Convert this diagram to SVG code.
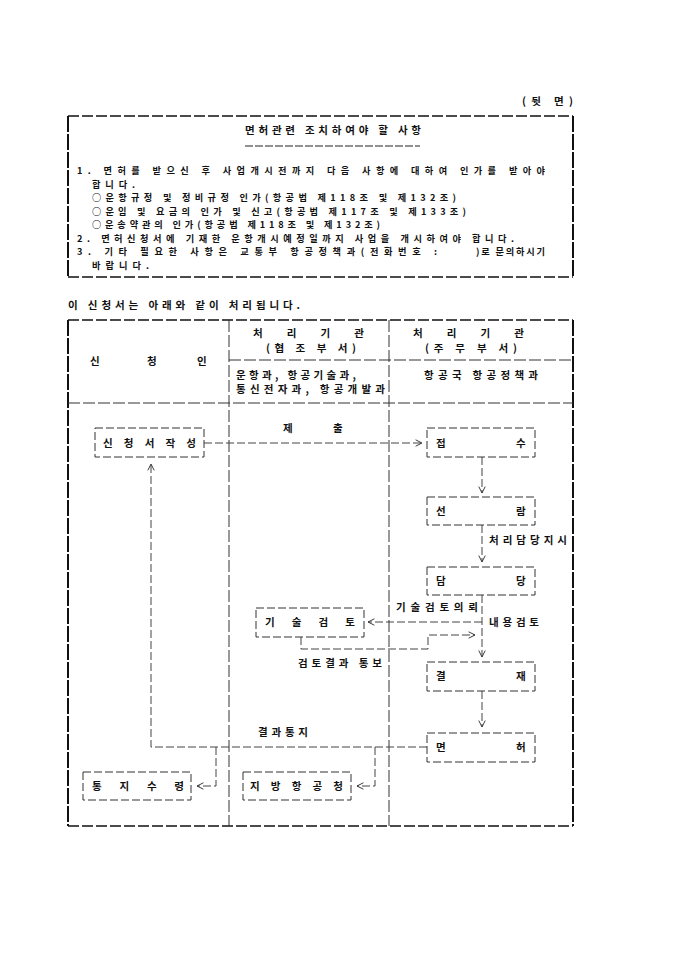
<svg xmlns="http://www.w3.org/2000/svg" width="680" height="962" viewBox="0 0 680 962">
<defs>
<style>
text{font-family:"Noto Sans CJK KR","Noto Sans",sans-serif;font-size:10.5px;font-weight:bold;fill:#111;}
.sm{font-size:9.2px;}
.frame{fill:none;stroke:#111;stroke-width:1.6;stroke-dasharray:11 3;}
.frameV{fill:none;stroke:#111;stroke-width:2;stroke-dasharray:16 2;}
.div{fill:none;stroke:#333;stroke-width:1;stroke-dasharray:12 3;}
.box{fill:none;stroke:#333;stroke-width:1;stroke-dasharray:8 3;}
.con{fill:none;stroke:#444;stroke-width:1;stroke-dasharray:8 3;}
</style>
<marker id="ah" viewBox="0 0 10 10" refX="9" refY="5" markerWidth="8" markerHeight="8" orient="auto" markerUnits="userSpaceOnUse">
<path d="M1,1 L9,5 L1,9" fill="none" stroke="#333" stroke-width="1.2"/>
</marker>
</defs>
<rect width="680" height="962" fill="#fff"/>

<text x="522" y="105" textLength="51" lengthAdjust="spacing">(뒷 면)</text>

<g id="notice">
<path class="frame" d="M68,116 H573"/>
<path class="frame" d="M68,277 H573"/>
<path class="frameV" d="M68,116 V277"/>
<path class="frameV" d="M573,116 V277"/>
<text x="245" y="134" textLength="176" lengthAdjust="spacing">면허관련 조치하여야 할 사항</text>
<path d="M245,146 H420" stroke="#222" stroke-width="1" stroke-dasharray="8 2"/>
<text class="sm" x="77" y="174" textLength="468" lengthAdjust="spacing">1. 면허를 받으신 후 사업개시전까지 다음 사항에 대하여 인가를 받아야</text>
<text class="sm" x="92" y="187.5" textLength="43" lengthAdjust="spacing">합니다.</text>
<text class="sm" x="92" y="201" textLength="364" lengthAdjust="spacing">○운항규정 및 정비규정 인가(항공법 제118조 및 제132조)</text>
<text class="sm" x="92" y="214.5" textLength="374" lengthAdjust="spacing">○운임 및 요금의 인가 및 신고(항공법 제117조 및 제133조)</text>
<text class="sm" x="92" y="228" textLength="288" lengthAdjust="spacing">○운송약관의 인가(항공법 제118조 및 제132조)</text>
<text class="sm" x="77" y="241.5" textLength="437" lengthAdjust="spacing">2. 면허신청서에 기재한 운항개시예정일까지 사업을 개시하여야 합니다.</text>
<text class="sm" x="77" y="255" textLength="360" lengthAdjust="spacing">3. 기타 필요한 사항은 교통부 항공정책과(전화번호 :</text>
<text class="sm" x="476" y="255" textLength="69" lengthAdjust="spacing">)로 문의하시기</text>
<text class="sm" x="92" y="268.5" textLength="57" lengthAdjust="spacing">바랍니다.</text>
</g>

<text x="68" y="309" textLength="232" lengthAdjust="spacing">이 신청서는 아래와 같이 처리됩니다.</text>

<g id="table">
<path class="frame" d="M68,320 H573"/>
<path class="frame" d="M68,826 H573"/>
<path class="frameV" d="M68,320 V826"/>
<path class="frameV" d="M573,320 V826"/>
<path class="div" d="M229,320 V826"/>
<path class="div" d="M389,320 V826"/>
<path class="div" d="M229,360 H573"/>
<path class="div" d="M68,403 H573"/>
<text x="90" y="365">신</text>
<text x="147" y="365">청</text>
<text x="197" y="365">인</text>
<text x="253" y="337" textLength="111" lengthAdjust="spacing">처 리 기 관</text>
<text x="266" y="352" textLength="90" lengthAdjust="spacing">(협 조 부 서)</text>
<text x="413" y="337" textLength="111" lengthAdjust="spacing">처 리 기 관</text>
<text x="425" y="352" textLength="92" lengthAdjust="spacing">(주 무 부 서)</text>
<text x="236" y="379" textLength="120" lengthAdjust="spacing">운항과, 항공기술과,</text>
<text x="236" y="393" textLength="149" lengthAdjust="spacing">통신전자과, 항공개발과</text>
<text x="424" y="379" textLength="114" lengthAdjust="spacing">항공국 항공정책과</text>
</g>

<g id="connectors">
<path class="con" d="M204,443 H422" marker-end="url(#ah)"/>
<path class="con" d="M482,457 V493" marker-end="url(#ah)"/>
<path class="con" d="M482,525 V562" marker-end="url(#ah)"/>
<path class="con" d="M482,595 V657" marker-end="url(#ah)"/>
<path class="con" d="M482,622 H368" marker-end="url(#ah)"/>
<path class="con" d="M301,637 V649 H428 V635 H475" marker-end="url(#ah)"/>
<path class="con" d="M482,691 V727" marker-end="url(#ah)"/>
<path class="con" d="M427,747 H151 V464" marker-end="url(#ah)"/>
<path class="con" d="M216,747 V786 H197" marker-end="url(#ah)"/>
<path class="con" d="M375,747 V786 H357" marker-end="url(#ah)"/>
<text x="283" y="432">제</text>
<text x="333" y="432">출</text>
<text x="489" y="544" textLength="78" lengthAdjust="spacing">처리담당지시</text>
<text x="396" y="611" textLength="82" lengthAdjust="spacing">기술검토의뢰</text>
<text x="489" y="626" textLength="50" lengthAdjust="spacing">내용검토</text>
<text x="298" y="667" textLength="84" lengthAdjust="spacing">검토결과 통보</text>
<text x="258" y="736" textLength="50" lengthAdjust="spacing">결과통지</text>
</g>

<g id="n_apply">
<rect class="box" x="95" y="428" width="109" height="29"/>
<text x="103" y="447" textLength="93" lengthAdjust="spacing">신 청 서 작 성</text>
</g>
<g id="n_receive">
<rect class="box" x="427" y="428" width="108" height="29"/>
<text x="436" y="447">접</text><text x="516" y="447">수</text>
</g>
<g id="n_preview">
<rect class="box" x="427" y="497" width="108" height="28"/>
<text x="436" y="515">선</text><text x="516" y="515">람</text>
</g>
<g id="n_charge">
<rect class="box" x="427" y="567" width="108" height="28"/>
<text x="436" y="585">담</text><text x="516" y="585">당</text>
</g>
<g id="n_tech">
<rect class="box" x="256" y="608" width="108" height="29"/>
<text x="265" y="626" textLength="90" lengthAdjust="spacing">기 술 검 토</text>
</g>
<g id="n_approve">
<rect class="box" x="427" y="662" width="108" height="29"/>
<text x="436" y="680">결</text><text x="516" y="680">재</text>
</g>
<g id="n_license">
<rect class="box" x="427" y="733" width="108" height="29"/>
<text x="436" y="751">면</text><text x="516" y="751">허</text>
</g>
<g id="n_notify">
<rect class="box" x="83" y="772" width="108" height="28"/>
<text x="92" y="790" textLength="92" lengthAdjust="spacing">통 지 수 령</text>
</g>
<g id="n_regional">
<rect class="box" x="243" y="772" width="108" height="28"/>
<text x="250" y="790" textLength="93" lengthAdjust="spacing">지 방 항 공 청</text>
</g>
</svg>
